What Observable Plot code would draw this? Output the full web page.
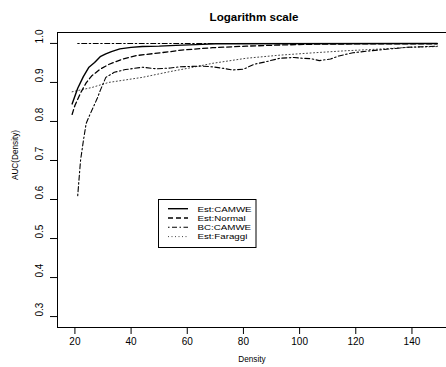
<!DOCTYPE html>
<html>
<head>
<meta charset="utf-8">
<script src="https://cdn.jsdelivr.net/npm/d3@7"></script>
<script src="https://cdn.jsdelivr.net/npm/@observablehq/plot@0.6"></script>
<style>
  body { margin: 0; background: #fff; }
  #wrap { position: relative; width: 446px; height: 367px; font-family: "Liberation Sans", Arial, sans-serif; }
  #wrap svg { display: block; }
  #legend { position: absolute; left: 0; top: 0; pointer-events: none; overflow: visible; }
</style>
</head>
<body>
<div id="wrap"></div>
<script>
const title = "Logarithm scale";
const xLabel = "Density";
const yLabel = "AUC(Density)";
const xTicks = [20, 40, 60, 80, 100, 120, 140];
const yTicks = [0.3, 0.4, 0.5, 0.6, 0.7, 0.8, 0.9, 1.0];

// Est:CAMWE (solid)
const camweX = [19, 21, 23, 25, 27, 29, 31, 33, 36, 40, 44, 50, 56, 63, 70, 149];
const camweY = [0.845, 0.885, 0.915, 0.939, 0.951, 0.966, 0.973, 0.979, 0.986, 0.990, 0.992, 0.993, 0.995, 0.997, 0.999, 1.0];

// Est:Normal (dashed)
const normalX = [19, 20, 22, 24, 26, 29, 32, 37, 42, 48, 54, 58, 69, 81, 93, 105, 125, 149];
const normalY = [0.818, 0.841, 0.873, 0.899, 0.917, 0.934, 0.946, 0.960, 0.969, 0.974, 0.979, 0.983, 0.989, 0.993, 0.996, 0.998, 0.999, 0.999];

// BC:CAMWE (dash-dot)
const bcX = [21, 22, 23, 24, 25, 26.5, 28, 29, 31, 34, 38, 44, 49, 54, 57, 65, 69, 73, 76, 80, 84, 88, 93, 98, 101, 104, 107, 111, 114, 119, 125, 131, 138, 149];
const bcY = [0.61, 0.70, 0.75, 0.795, 0.812, 0.836, 0.86, 0.879, 0.913, 0.926, 0.933, 0.939, 0.935, 0.937, 0.940, 0.942, 0.940, 0.936, 0.932, 0.934, 0.947, 0.953, 0.962, 0.964, 0.962, 0.961, 0.956, 0.960, 0.968, 0.976, 0.981, 0.985, 0.990, 0.993];

// Est:Faraggi (dotted)
const faraggiX = [19, 26, 32, 44, 54, 60, 69, 81, 93, 105, 116, 127, 139, 149];
const faraggiY = [0.876, 0.887, 0.900, 0.913, 0.928, 0.936, 0.949, 0.962, 0.970, 0.976, 0.981, 0.985, 0.990, 0.992];

// reference level (dash-dot, not in legend)
const refX = [21, 149];
const refY = [1.0, 1.0];

const legendLabels = ["Est:CAMWE", "Est:Normal", "BC:CAMWE", "Est:Faraggi"];

const toRows = (xs, ys) => xs.map((x, i) => ({x, y: ys[i]}));

const xDomain = [13.8, 152.3];
const yDomain = [0.272, 1.028];

const lineStyle = {
  solid: {stroke: "black", strokeWidth: 1.4},
  dashed: {stroke: "black", strokeWidth: 1.3, strokeDasharray: "5,3"},
  dotdash: {stroke: "black", strokeWidth: 1.1, strokeDasharray: "1.5,2.5,5,2.5"},
  dotted: {stroke: "#444", strokeWidth: 1, strokeDasharray: "1,2.5"}
};

const chart = Plot.plot({
  width: 446,
  height: 367,
  marginLeft: 57,
  marginRight: 0,
  marginTop: 32,
  marginBottom: 40,
  style: {fontFamily: "Liberation Sans, Arial, sans-serif", background: "white", overflow: "visible"},
  x: {domain: xDomain},
  y: {domain: yDomain},
  marks: [
    Plot.ruleY([yDomain[0], yDomain[1]], {stroke: "black", strokeWidth: 1}),
    Plot.ruleX([xDomain[0]], {stroke: "black", strokeWidth: 1}),
    Plot.axisX(xTicks, {tickSize: 7, tickPadding: 3, fontSize: 10, stroke: "black", color: "black", label: null}),
    Plot.axisY(yTicks, {tickSize: 7, text: null, stroke: "black", label: null}),
    Plot.text(yTicks, {y: d => d, text: d => d3.format(".1f")(d), frameAnchor: "left", dx: -18, rotate: -90, fontSize: 10, fill: "black"}),
    Plot.text([xLabel], {frameAnchor: "bottom", dy: 34, fontSize: 8.2, fill: "black"}),
    Plot.text([yLabel], {frameAnchor: "left", dx: -42, rotate: -90, fontSize: 8.2, fill: "black"}),
    Plot.text([title], {frameAnchor: "top", dy: -20, dx: 2, fontSize: 11.6, fontWeight: "bold", fill: "black"}),
    Plot.line(toRows(refX, refY), {x: "x", y: "y", ...lineStyle.dotdash, clip: true}),
    Plot.line(toRows(faraggiX, faraggiY), {x: "x", y: "y", ...lineStyle.dotted, clip: true}),
    Plot.line(toRows(bcX, bcY), {x: "x", y: "y", ...lineStyle.dotdash, clip: true}),
    Plot.line(toRows(normalX, normalY), {x: "x", y: "y", ...lineStyle.dashed, clip: true}),
    Plot.line(toRows(camweX, camweY), {x: "x", y: "y", ...lineStyle.solid, clip: true})
  ]
});

const wrap = document.getElementById("wrap");
wrap.appendChild(chart);

// Legend box (R style)
const ns = "http://www.w3.org/2000/svg";
const leg = document.createElementNS(ns, "svg");
leg.setAttribute("id", "legend");
leg.setAttribute("width", 446);
leg.setAttribute("height", 367);
const box = document.createElementNS(ns, "rect");
box.setAttribute("x", 158.5); box.setAttribute("y", 199.5);
box.setAttribute("width", 97.5); box.setAttribute("height", 48);
box.setAttribute("fill", "white"); box.setAttribute("stroke", "black"); box.setAttribute("stroke-width", 1);
leg.appendChild(box);
const styles = [lineStyle.solid, lineStyle.dashed, lineStyle.dotdash, lineStyle.dotted];
legendLabels.forEach((lab, i) => {
  const yy = 208.7 + i * 9.3;
  const ln = document.createElementNS(ns, "line");
  ln.setAttribute("x1", 168); ln.setAttribute("x2", 188);
  ln.setAttribute("y1", yy); ln.setAttribute("y2", yy);
  const s = styles[i];
  ln.setAttribute("stroke", s.stroke);
  ln.setAttribute("stroke-width", s.strokeWidth);
  if (s.strokeDasharray) ln.setAttribute("stroke-dasharray", s.strokeDasharray);
  leg.appendChild(ln);
  const t = document.createElementNS(ns, "text");
  t.setAttribute("transform", `translate(197.5,${yy}) scale(1.22,1)`);
  t.setAttribute("dy", "0.35em");
  t.setAttribute("font-size", 8);
  t.setAttribute("font-family", "Liberation Sans, Arial, sans-serif");
  t.textContent = lab;
  leg.appendChild(t);
});
wrap.appendChild(leg);
</script>
</body>
</html>
